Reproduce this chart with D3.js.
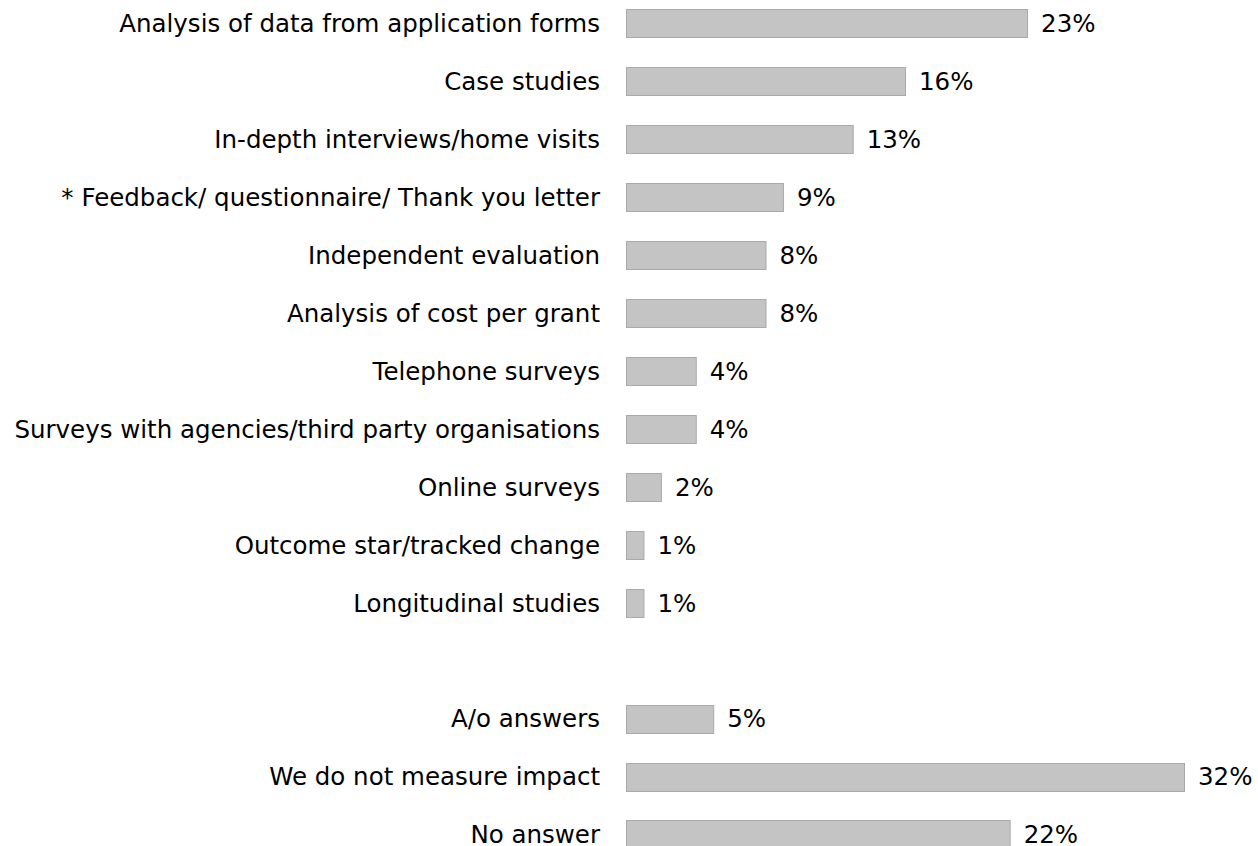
<!DOCTYPE html>
<html>
<head>
<meta charset="utf-8">
<script src="https://cdn.jsdelivr.net/npm/d3@7"></script>
<style>
  html, body { margin: 0; padding: 0; background: #ffffff; }
  svg text { font-family: "DejaVu Sans", sans-serif; fill: #000; }
</style>
</head>
<body>
<svg id="chart" width="1258" height="846"></svg>
<script>
// Ways in which impact is measured (% of respondents)
const categories = [
  "Analysis of data from application forms",
  "Case studies",
  "In-depth interviews/home visits",
  "* Feedback/ questionnaire/ Thank you letter",
  "Independent evaluation",
  "Analysis of cost per grant",
  "Telephone surveys",
  "Surveys with agencies/third party organisations",
  "Online surveys",
  "Outcome star/tracked change",
  "Longitudinal studies",
  "",
  "A/o answers",
  "We do not measure impact",
  "No answer"
];
const values = [23, 16, 13, 9, 8, 8, 4, 4, 2, 1, 1, null, 5, 32, 22];

const svg = d3.select("#chart");
const barLeft = 626;

const x = d3.scaleLinear()
  .domain([0, 32])
  .range([barLeft, barLeft + 558]);

const y = d3.scaleBand()
  .domain(d3.range(categories.length))
  .range([-5, 863])
  .paddingInner(0.515)
  .paddingOuter(0.25);

const rows = categories.map((c, i) => ({ label: c, value: values[i], i }));

const g = svg.append("g");

// Category labels
g.selectAll("text.cat")
  .data(rows.filter(d => d.label))
  .join("text")
  .attr("class", "cat")
  .attr("x", 600)
  .attr("y", d => y(d.i) + y.bandwidth() / 2)
  .attr("dy", "0.36em")
  .attr("text-anchor", "end")
  .style("font-size", "24.5px")
  .text(d => d.label);

// Bars
g.selectAll("rect.bar")
  .data(rows.filter(d => d.value != null))
  .join("rect")
  .attr("class", "bar")
  .attr("x", x(0) + 0.5)
  .attr("y", d => Math.round(y(d.i)) + 0.5)
  .attr("width", d => x(d.value) - x(0))
  .attr("height", Math.round(y.bandwidth()))
  .attr("fill", "#c4c4c4")
  .attr("stroke", "#a9a9a9")
  .attr("stroke-width", 1);

// Value labels
g.selectAll("text.val")
  .data(rows.filter(d => d.value != null))
  .join("text")
  .attr("class", "val")
  .attr("x", d => x(d.value) + 14)
  .attr("y", d => y(d.i) + y.bandwidth() / 2)
  .attr("dy", "0.36em")
  .style("font-size", "24.5px")
  .text(d => d.value + "%");
</script>
</body>
</html>
